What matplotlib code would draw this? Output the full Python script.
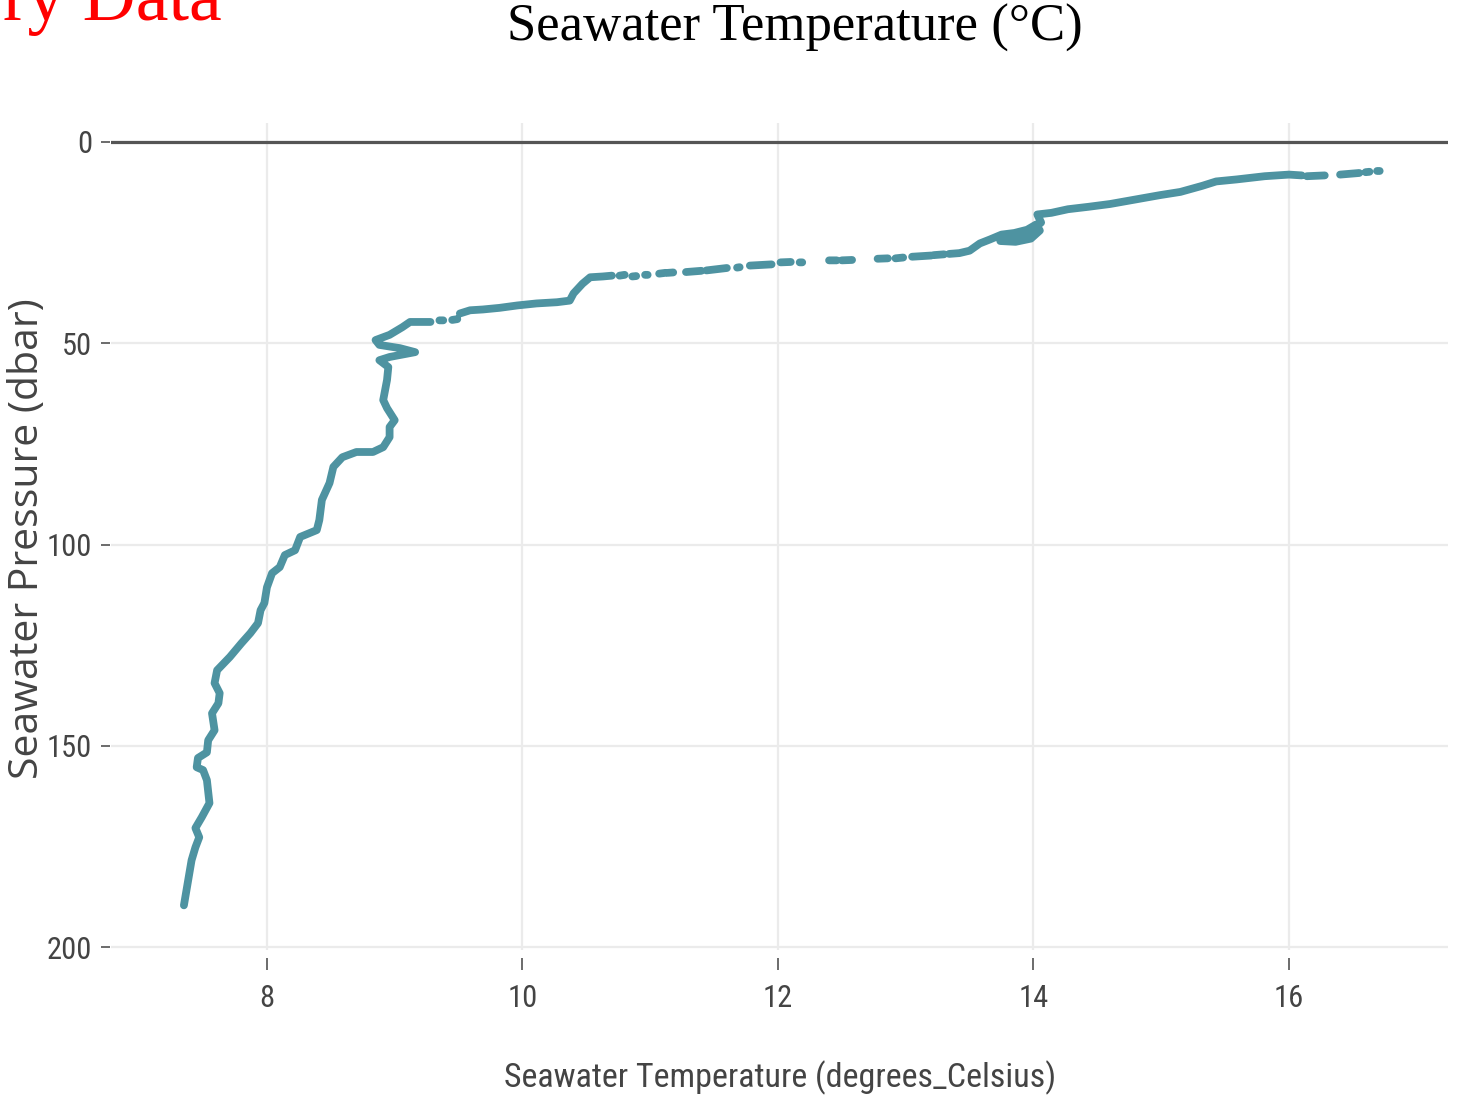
import numpy as np
import matplotlib.pyplot as plt
from matplotlib import font_manager

nan = np.nan

# CTD cast: temperature (degrees C) against pressure (dbar), from the bottom up.
# NaN entries split the record where the sampling thins out into separate dashes.
temp_c = [
    7.35, 7.41, 7.44, 7.47, 7.44, 7.49, 7.55, 7.53, 7.50, 7.45, 7.46, 7.53,
    7.54, 7.59, 7.57, 7.62, 7.63, 7.59, 7.61, 7.71, 7.80, 7.87, 7.93, 7.95,
    7.98, 8.00, 8.04, 8.10, 8.14, 8.22, 8.26, 8.39, 8.41, 8.43, 8.44, 8.49,
    8.52, 8.59, 8.70, 8.83, 8.91, 8.96, 8.96, 9.00, 8.94, 8.91, 8.94, 8.95,
    8.88, 8.96, 9.16, 9.04, 8.88, 8.85, 8.96, 9.06, 9.12, 9.28, nan,
    9.35, 9.38, nan, 9.45, 9.49, nan,
    9.51, 9.59, 9.69, 9.82, 9.96, 10.11, 10.27, 10.37, 10.40, 10.47, 10.53,
    10.63, 10.70, nan,
    10.76, 10.80, nan, 10.86, 10.89, nan, 10.96, 10.98, nan, 11.07, 11.12, nan,
    11.14, 11.18, nan, 11.28, 11.40, nan, 11.44, 11.60, nan, 11.68, 11.70, nan,
    11.78, 11.95, nan, 12.02, 12.10, nan, 12.17, 12.19, nan, 12.40, 12.46, nan,
    12.50, 12.58, nan, 12.78, 12.86, nan, 12.92, 12.98, nan, 13.05, 13.20, nan,
    13.22, 13.30, nan,
    13.34, 13.42, 13.50, 13.58, 13.66, 13.75, 13.85, 13.95, 14.02, 14.05,
    13.98, 13.86, 13.74, 13.86, 13.98, 14.06, 14.03, 14.14,
    14.27, 14.43, 14.60, 14.76, 14.99, 15.15, 15.32, 15.43, 15.59, 15.81,
    16.00, 16.10, nan,
    16.14, 16.28, nan, 16.40, 16.55, nan, 16.60, 16.63, nan, 16.69, 16.71,
]
pres_dbar = [
    189.6, 178.4, 175.2, 172.7, 170.4, 167.7, 164.2, 158.5, 156.0, 155.3, 153.0, 151.6,
    148.6, 146.1, 141.9, 139.4, 136.9, 134.4, 131.2, 127.9, 124.5, 122.0, 119.5, 116.3,
    114.5, 110.6, 107.1, 105.6, 102.6, 101.4, 98.1, 96.4, 93.9, 88.9, 88.2, 84.7,
    80.7, 78.3, 77.0, 77.0, 75.8, 73.3, 70.8, 69.1, 66.1, 64.1, 59.1, 55.9,
    54.2, 53.4, 52.2, 51.2, 50.4, 49.2, 47.9, 46.0, 44.7, 44.7, nan,
    44.3, 44.3, nan, 44.2, 44.0, nan,
    42.6, 41.8, 41.6, 41.2, 40.6, 40.1, 39.8, 39.4, 37.6, 35.2, 33.6,
    33.4, 33.2, nan,
    33.2, 33.0, nan, 33.4, 33.3, nan, 33.0, 33.0, nan, 32.7, 32.5, nan,
    32.5, 32.4, nan, 32.3, 32.0, nan, 31.9, 31.3, nan, 31.2, 31.1, nan,
    30.7, 30.4, nan, 29.9, 29.8, nan, 29.9, 29.9, nan, 29.4, 29.4, nan,
    29.4, 29.3, nan, 29.0, 28.9, nan, 28.9, 28.7, nan, 28.5, 28.2, nan,
    28.1, 27.9, nan,
    27.8, 27.6, 27.0, 25.2, 24.2, 23.0, 22.6, 21.8, 20.5, 22.0,
    24.0, 24.8, 24.6, 23.4, 22.2, 20.0, 18.0, 17.6,
    16.7, 16.1, 15.4, 14.5, 13.2, 12.4, 10.9, 9.8, 9.3, 8.5,
    8.1, 8.3, nan,
    8.5, 8.3, nan, 8.1, 7.7, nan, 7.5, 7.4, nan, 7.2, 7.2,
]

x_ticks = [8, 10, 12, 14, 16]
y_ticks = [0, 50, 100, 150, 200]


def first_font(names):
    for name in names:
        try:
            font_manager.findfont(font_manager.FontProperties(family=name),
                                  fallback_to_default=False)
            return name
        except ValueError:
            pass
    return None


narrow = first_font(['Liberation Sans Narrow', 'DejaVu Sans Condensed',
                     'Roboto Condensed', 'Open Sans Condensed',
                     'Noto Sans Condensed', 'Arial Narrow'])
if narrow:
    tick_font, tick_size, label_size = [narrow, 'DejaVu Sans'], 22, 24.5
else:
    tick_font, tick_size, label_size = ['Liberation Sans', 'DejaVu Sans'], 20, 21
ink = '#444444'

fig = plt.figure(figsize=(14.6, 11.02), dpi=100)
ax = fig.add_axes([0.0760, 0.1379, 0.9158, 0.7505])

ax.plot(temp_c, pres_dbar, color='#4e93a1', lw=5.6,
        solid_capstyle='round', solid_joinstyle='round', zorder=3)

ax.set_xlim(6.779, 17.245)
ax.set_ylim(200.7, -4.72)
ax.set_xticks(x_ticks)
ax.set_yticks(y_ticks)

ax.grid(True, color='#ebebeb', lw=1.6, zorder=0)
ax.axhline(0, color='#555555', lw=2.3, zorder=2)
ax.set_axisbelow(True)

for side in ['top', 'right', 'bottom', 'left']:
    ax.spines[side].set_visible(False)
ax.spines['bottom'].set_position(('outward', 6))
ax.spines['left'].set_position(('outward', 1))

ax.tick_params(axis='x', length=8.5, width=1.1, color=ink, pad=10,
               labelsize=tick_size, labelcolor=ink)
ax.tick_params(axis='y', length=6.5, width=1.1, color=ink, pad=6,
               labelsize=tick_size, labelcolor=ink)
for lab in ax.get_xticklabels() + ax.get_yticklabels():
    lab.set_family(tick_font)

ax.set_xlabel('Seawater Temperature (degrees_Celsius)', family=tick_font,
              fontsize=label_size, color=ink)
ax.xaxis.set_label_coords(0.5004, -0.134)

ax.set_ylabel('Seawater Pressure (dbar)', family=['Open Sans', 'DejaVu Sans'],
              fontsize=29.5, color=ink)
ax.yaxis.label.set_va('center')
ax.yaxis.set_label_coords(-0.0625, 0.497)

fig.text(795 / 1460, 1 - 28 / 1102, 'Seawater Temperature (°C)',
         ha='center', va='center', family='Liberation Serif', fontsize=38)
fig.text(222 / 1460, 1 - 20 / 1102, 'ry Data', ha='right', va='baseline',
         color='red', family='Liberation Serif', fontsize=53)

fig.savefig('out.png', dpi=100, facecolor='white')
